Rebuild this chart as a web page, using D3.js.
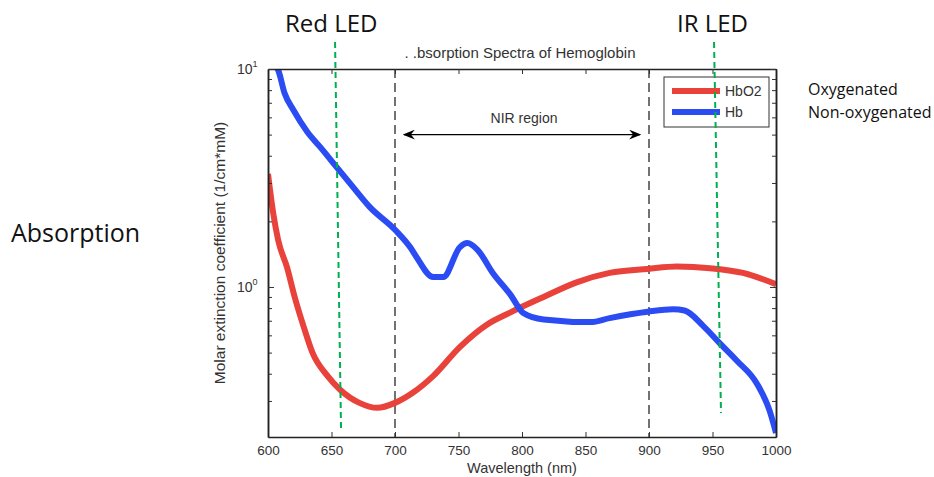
<!DOCTYPE html>
<html>
<head>
<meta charset="utf-8">
<script src="https://cdn.jsdelivr.net/npm/d3@7"></script>
<style>
  body { margin: 0; background: #fff; }
  .matlab text { font-family: "Liberation Sans", Arial, sans-serif; }
  .note { font-family: "Open Sans", "Noto Sans", sans-serif; fill: #111; }
</style>
</head>
<body>
<div class="canvas"></div>
<script>
// data
const hbo2Wavelength = [600, 604, 608, 615, 621, 628, 635, 647, 657, 672, 686, 700, 714, 730, 751, 772, 791, 817, 843, 869, 899, 922, 948, 974, 1000];
const hbo2Values = [3.3, 2.2, 1.64, 1.23, 0.9, 0.66, 0.5, 0.39, 0.337, 0.294, 0.279, 0.294, 0.327, 0.39, 0.53, 0.67, 0.765, 0.9, 1.05, 1.16, 1.21, 1.24, 1.22, 1.16, 1.03];

const hbWavelength = [605, 608, 613, 620, 631, 641, 654, 667, 680, 700, 712, 717, 730, 738, 751, 757, 765, 777, 791, 801, 817, 854, 869, 899, 919, 928, 943, 956, 969, 985, 995, 1000];
const hbValues = [10.5, 9.9, 7.76, 6.48, 5.14, 4.39, 3.55, 2.87, 2.33, 1.83, 1.52, 1.37, 1.11, 1.11, 1.52, 1.59, 1.48, 1.16, 0.92, 0.76, 0.71, 0.69, 0.72, 0.77, 0.79, 0.78, 0.66, 0.55, 0.46, 0.36, 0.27, 0.214];

const xTicks = [600, 650, 700, 750, 800, 850, 900, 950, 1000];
const yMajor = [1, 10];
const yMinor = [0.3, 0.4, 0.5, 0.6, 0.7, 0.8, 0.9, 2, 3, 4, 5, 6, 7, 8, 9];
const nirBounds = [700, 900];
const ledLines = [
  { name: 'Red LED', x1: 652.8, x2: 657.5, y1: 13.3, y2: 0.225 },
  { name: 'IR LED', x1: 951.2, x2: 956.7, y1: 13.3, y2: 0.264 }
];
const seriesNames = ['HbO2', 'Hb'];
const seriesColors = ['#e8423a', '#2b4cf2'];

const width = 934;
const height = 477;

const svg = d3
  .select('.canvas')
  .append('svg')
  .attr('width', width)
  .attr('height', height);

const x = d3.scaleLinear().domain([600, 1000]).range([268, 776]);
const y = d3.scaleLog().domain([0.205, 10]).range([437, 69]);

const plot = svg.append('g').attr('class', 'matlab');

plot
  .append('clipPath')
  .attr('id', 'clip')
  .append('rect')
  .attr('x', x(600))
  .attr('y', y(10))
  .attr('width', x(1000) - x(600))
  .attr('height', y(0.205) - y(10));

// NIR region dashed bounds
plot
  .selectAll('.nir')
  .data(nirBounds)
  .enter()
  .append('line')
  .attr('x1', d => x(d))
  .attr('x2', d => x(d))
  .attr('y1', y(10))
  .attr('y2', y(0.205))
  .attr('stroke', '#444')
  .attr('stroke-width', 1.5)
  .attr('stroke-dasharray', '9,5');

// curves
const line = d3
  .line()
  .x(d => x(d[0]))
  .y(d => y(d[1]))
  .curve(d3.curveMonotoneX);

const series = [
  d3.zip(hbo2Wavelength, hbo2Values),
  d3.zip(hbWavelength, hbValues)
];

plot
  .append('g')
  .attr('clip-path', 'url(#clip)')
  .selectAll('path')
  .data(series)
  .enter()
  .append('path')
  .attr('d', line)
  .attr('fill', 'none')
  .attr('stroke', (d, i) => seriesColors[i])
  .attr('stroke-width', 6)
  .attr('stroke-linejoin', 'round');

// axes
const xAxis = d3
  .axisBottom(x)
  .tickValues(xTicks)
  .tickSize(-5)
  .tickSizeOuter(0)
  .tickPadding(8)
  .tickFormat(d3.format('d'));
const xTop = d3.axisTop(x).tickValues(xTicks).tickSize(-5).tickSizeOuter(0).tickFormat('');
const yLeftMinor = d3.axisLeft(y).tickValues(yMinor).tickSize(-4).tickSizeOuter(0).tickFormat('');
const yLeftMajor = d3.axisLeft(y).tickValues(yMajor).tickSize(-6).tickSizeOuter(0).tickFormat('');
const yRightMinor = d3.axisRight(y).tickValues(yMinor).tickSize(-4).tickSizeOuter(0).tickFormat('');
const yRightMajor = d3.axisRight(y).tickValues(yMajor).tickSize(-6).tickSizeOuter(0).tickFormat('');

const xAxisGroup = plot.append('g').attr('transform', `translate(0, ${y(0.205)})`).call(xAxis);
plot.append('g').attr('transform', `translate(0, ${y(10)})`).call(xTop);
plot.append('g').attr('transform', `translate(${x(600)}, 0)`).call(yLeftMinor);
plot.append('g').attr('transform', `translate(${x(600)}, 0)`).call(yLeftMajor);
plot.append('g').attr('transform', `translate(${x(1000)}, 0)`).call(yRightMinor);
plot.append('g').attr('transform', `translate(${x(1000)}, 0)`).call(yRightMajor);

plot.selectAll('.domain').attr('stroke', '#222').attr('stroke-width', 1.5);
plot.selectAll('.tick line').attr('stroke', '#333');

xAxisGroup
  .selectAll('text')
  .attr('font-size', 13.5)
  .attr('fill', '#333')
  .attr('font-family', '"Liberation Sans", Arial, sans-serif');

// log labels with superscript
const yLabels = plot
  .selectAll('.ylab')
  .data(yMajor)
  .enter()
  .append('text')
  .attr('x', x(600) - 31)
  .attr('y', d => y(d) + 5)
  .attr('font-size', 14)
  .attr('fill', '#333');
yLabels.append('tspan').text('10');
yLabels
  .append('tspan')
  .attr('dy', -7)
  .attr('font-size', 9)
  .text(d => Math.round(Math.log10(d)));

// axis titles
plot
  .append('text')
  .attr('x', (x(600) + x(1000)) / 2)
  .attr('y', 473)
  .attr('text-anchor', 'middle')
  .attr('font-size', 14.5)
  .attr('fill', '#333')
  .text('Wavelength (nm)');

plot
  .append('text')
  .attr('transform', `translate(225, ${(y(10) + y(0.205)) / 2}) rotate(-90)`)
  .attr('text-anchor', 'middle')
  .attr('font-size', 15.5)
  .attr('fill', '#333')
  .text('Molar extinction coefficient (1/cm*mM)');

plot
  .append('text')
  .attr('x', 520)
  .attr('y', 58)
  .attr('text-anchor', 'middle')
  .attr('font-size', 15)
  .attr('fill', '#333')
  .text('. .bsorption Spectra of Hemoglobin');

// NIR arrow
const defs = svg.append('defs');
defs
  .append('marker')
  .attr('id', 'head')
  .attr('viewBox', '0 0 12 10')
  .attr('refX', 11)
  .attr('refY', 5)
  .attr('markerWidth', 12)
  .attr('markerHeight', 10)
  .attr('markerUnits', 'userSpaceOnUse')
  .attr('orient', 'auto-start-reverse')
  .append('path')
  .attr('d', 'M0,0 L12,5 L0,10 L4,5 Z')
  .attr('fill', '#000');

plot
  .append('line')
  .attr('x1', x(707))
  .attr('x2', x(893))
  .attr('y1', y(5))
  .attr('y2', y(5))
  .attr('stroke', '#000')
  .attr('stroke-width', 1.2)
  .attr('marker-start', 'url(#head)')
  .attr('marker-end', 'url(#head)');

plot
  .append('text')
  .attr('x', x(800) + 2)
  .attr('y', y(5) - 12)
  .attr('text-anchor', 'middle')
  .attr('font-size', 14)
  .attr('fill', '#333')
  .text('NIR region');

// legend
const legend = plot.append('g').attr('transform', 'translate(664, 77)');
legend
  .append('rect')
  .attr('width', 105)
  .attr('height', 50)
  .attr('fill', '#fff')
  .attr('stroke', '#333')
  .attr('stroke-width', 1);
seriesNames.forEach((name, i) => {
  legend
    .append('line')
    .attr('x1', 8)
    .attr('x2', 56)
    .attr('y1', 14 + i * 21)
    .attr('y2', 14 + i * 21)
    .attr('stroke', seriesColors[i])
    .attr('stroke-width', 6);
  legend
    .append('text')
    .attr('x', 61)
    .attr('y', 19 + i * 21)
    .attr('font-size', 14)
    .attr('fill', '#333')
    .text(name);
});

// LED marker lines
svg
  .selectAll('.led')
  .data(ledLines)
  .enter()
  .append('line')
  .attr('x1', d => x(d.x1))
  .attr('x2', d => x(d.x2))
  .attr('y1', d => y(d.y1))
  .attr('y2', d => y(d.y2))
  .attr('stroke', '#00b050')
  .attr('stroke-width', 2)
  .attr('stroke-dasharray', '6,4');

// slide annotations
const notes = [
  { text: 'Red LED', x: 285, y: 32, size: 24 },
  { text: 'IR LED', x: 677, y: 32, size: 24 },
  { text: 'Absorption', x: 11, y: 242, size: 25 },
  { text: 'Oxygenated', x: 808, y: 95, size: 16 },
  { text: 'Non-oxygenated', x: 808, y: 118, size: 16 }
];
svg
  .selectAll('.note')
  .data(notes)
  .enter()
  .append('text')
  .attr('class', 'note')
  .attr('x', d => d.x)
  .attr('y', d => d.y)
  .attr('font-size', d => d.size)
  .text(d => d.text);
</script>
</body>
</html>
